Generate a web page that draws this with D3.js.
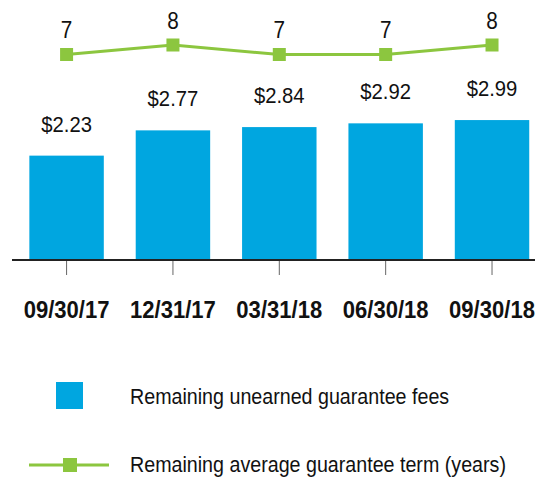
<!DOCTYPE html>
<html>
<head>
<meta charset="utf-8">
<script src="https://cdn.jsdelivr.net/npm/d3@7"></script>
<style>
  body { margin: 0; background: #fff; }
  text { font-family: "Liberation Sans", Arial, sans-serif; fill: #111; }
</style>
</head>
<body>
<script>
const dates = ["09/30/17", "12/31/17", "03/31/18", "06/30/18", "09/30/18"];
const fees = [2.23, 2.77, 2.84, 2.92, 2.99];
const terms = [7, 8, 7, 7, 8];
const legendLabels = ["Remaining unearned guarantee fees", "Remaining average guarantee term (years)"];

const w = 535, h = 479;
const base = 260;
const blue = "#00a6e0", green = "#8cc63f";
const narrow = 0.9; // squeeze text to look like a condensed face

let svg = d3.select("body")
    .append("svg")
    .attr("width", w)
    .attr("height", h);

let x = d3.scaleBand()
    .domain(dates)
    .range([13.4, 545.2])
    .paddingInner(0.3)
    .paddingOuter(0.15);

let y = d3.scaleLinear()
    .domain([0, 3])
    .range([base, base - 140.4]);

// line uses its own scale, sits above the bars
let yTerm = d3.scaleLinear()
    .domain([7, 8])
    .range([54.5, 45]);

let cx = i => x(dates[i]) + x.bandwidth() / 2;

// bars
svg.append("g")
    .attr("fill", blue)
    .selectAll("rect")
    .data(fees)
    .enter().append("rect")
    .attr("x", (d, i) => x(dates[i]))
    .attr("width", x.bandwidth())
    .attr("y", d => y(d))
    .attr("height", d => y(0) - y(d));

svg.append("g")
    .selectAll("text")
    .data(fees)
    .enter().append("text")
    .attr("transform", (d, i) => `translate(${cx(i)},${y(d) - 24}) scale(${narrow},1)`)
    .attr("text-anchor", "middle")
    .attr("font-size", 22.5)
    .text(d => "$" + d.toFixed(2));

// x axis
let xAxis = g => g
    .attr("transform", `translate(0,${base})`)
    .call(d3.axisBottom(x).tickSize(15).tickSizeOuter(0).tickPadding(26))
    .call(g => g.select(".domain").remove())
    .call(g => g.selectAll(".tick line").attr("stroke", "#666").attr("stroke-width", 1))
    .call(g => g.selectAll(".tick text")
        .attr("font-size", 24)
        .attr("font-weight", "bold")
        .attr("fill", "#111")
        .attr("transform", "scale(0.92,1)"));

svg.append("g").call(xAxis);

svg.append("line")
    .attr("x1", 12).attr("x2", w)
    .attr("y1", base).attr("y2", base)
    .attr("stroke", "#222")
    .attr("stroke-width", 2);

// term line
let line = d3.line()
    .x((d, i) => cx(i))
    .y(d => yTerm(d));

svg.append("path")
    .datum(terms)
    .attr("fill", "none")
    .attr("stroke", green)
    .attr("stroke-width", 3)
    .attr("d", line);

svg.append("g")
    .attr("fill", green)
    .selectAll("rect")
    .data(terms)
    .enter().append("rect")
    .attr("x", (d, i) => cx(i) - 6.5)
    .attr("y", d => yTerm(d) - 6.5)
    .attr("width", 13)
    .attr("height", 13);

svg.append("g")
    .selectAll("text")
    .data(terms)
    .enter().append("text")
    .attr("transform", (d, i) => `translate(${cx(i)},${yTerm(d) - 16.5}) scale(${narrow},1)`)
    .attr("text-anchor", "middle")
    .attr("font-size", 23)
    .text(d => d);

// legend
let legend = svg.append("g");

legend.append("rect")
    .attr("x", 56).attr("y", 382)
    .attr("width", 27).attr("height", 27)
    .attr("fill", blue);

legend.append("line")
    .attr("x1", 29).attr("x2", 109)
    .attr("y1", 465).attr("y2", 465)
    .attr("stroke", green)
    .attr("stroke-width", 3);

legend.append("rect")
    .attr("x", 63).attr("y", 458)
    .attr("width", 14).attr("height", 14)
    .attr("fill", green);

legend.selectAll("text")
    .data(legendLabels)
    .enter().append("text")
    .attr("transform", (d, i) => `translate(130,${i === 0 ? 403.5 : 471.5}) scale(0.894,1)`)
    .attr("font-size", 22)
    .text(d => d);
</script>
</body>
</html>
